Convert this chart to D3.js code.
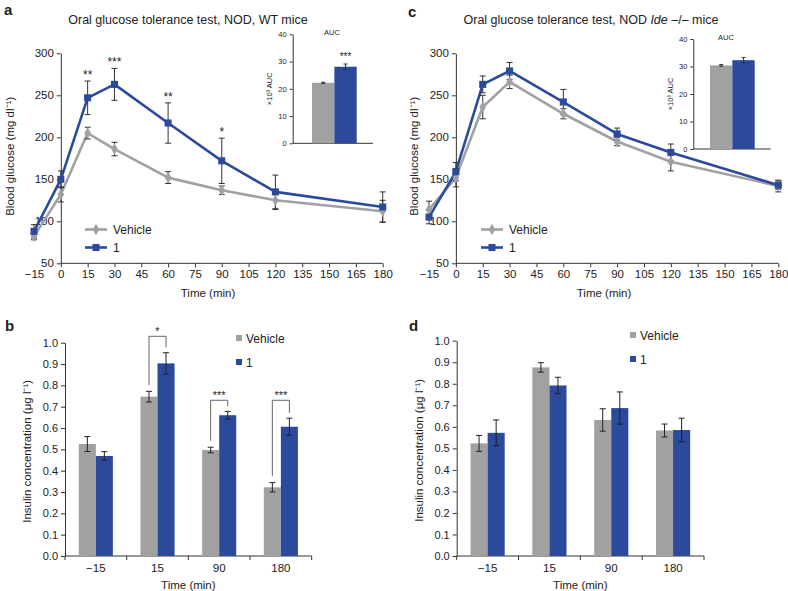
<!DOCTYPE html>
<html><head><meta charset="utf-8">
<script src="https://cdn.jsdelivr.net/npm/d3@7"></script>
<style>body{margin:0;background:#fff} text{font-family:"Liberation Sans",Arial,Helvetica,sans-serif;fill:#222}</style>
</head><body><svg id="c" width="788" height="591"></svg>
<script>
// ---------- DATA ----------
const times = [-15, 0, 15, 30, 60, 90, 120, 180];
const timeTicks = [-15, 0, 15, 30, 45, 60, 75, 90, 105, 120, 135, 150, 165, 180];
const glucoseTicks = [50, 100, 150, 200, 250, 300];
const seriesNames = ["Vehicle", "1"];

const wtVehicle = [82, 132, 205, 186, 152, 137, 125, 112];
const wtVehicleErr = [4, 9, 7, 8, 7, 5, 11, 13];
const wtCmpd = [88, 150, 247, 263, 217, 172, 135, 117];
const wtCmpdErr = [8, 10, 20, 19, 24, 27, 20, 18];
const wtSig = ["", "", "**", "***", "**", "*", "", ""];

const ideVehicle = [114, 152, 236, 266, 228, 195, 171, 142];
const ideVehicleErr = [10, 11, 14, 8, 6, 5, 11, 7];
const ideCmpd = [105, 159, 263, 279, 242, 204, 182, 143];
const ideCmpdErr = [8, 11, 10, 10, 15, 7, 10, 5];
const ideSig = ["", "", "", "", "", "", "", ""];

const aucTicks = [0, 10, 20, 30, 40];
const wtAUC = [22.2, 28.1];
const wtAUCErr = [0.2, 1.0];
const wtAUCSig = ["", "***"];
const ideAUC = [30.4, 32.3];
const ideAUCErr = [0.3, 1.0];
const ideAUCSig = ["", ""];

const insulinCats = ["−15", "15", "90", "180"];
const insulinTicks = [0, 0.1, 0.2, 0.3, 0.4, 0.5, 0.6, 0.7, 0.8, 0.9, 1.0];
const wtInsVehicle = [0.525, 0.747, 0.497, 0.322];
const wtInsVehicleErr = [0.035, 0.025, 0.013, 0.022];
const wtInsCmpd = [0.469, 0.903, 0.660, 0.606];
const wtInsCmpdErr = [0.02, 0.05, 0.018, 0.04];
const wtInsSig = ["", "*", "***", "***"];
const wtInsBracket = [null, 1.03, 0.73, 0.73];

const ideInsVehicle = [0.523, 0.876, 0.632, 0.583];
const ideInsVehicleErr = [0.037, 0.022, 0.052, 0.03];
const ideInsCmpd = [0.572, 0.792, 0.687, 0.585];
const ideInsCmpdErr = [0.06, 0.038, 0.075, 0.055];
const ideInsSig = ["", "", "", ""];
const ideInsBracket = [null, null, null, null];

const colors = { "Vehicle": "#a1a1a1", "1": "#2b4a9b" };
const axisColor = "#333";

const svg = d3.select("#c");
const minus = d => d < 0 ? "−" + (-d) : String(d);

function styleAxis(g, fs) {
  g.selectAll("path,line").attr("stroke", axisColor);
  g.selectAll("text").attr("font-size", fs).attr("fill", "#222").style("font-family", '"Liberation Sans",Arial,sans-serif');
}

function errBar(g, x, y0, y1, cap, color) {
  g.append("line").attr("x1", x).attr("x2", x).attr("y1", y0).attr("y2", y1).attr("stroke", color).attr("stroke-width", 1);
  g.append("line").attr("x1", x - cap).attr("x2", x + cap).attr("y1", y0).attr("y2", y0).attr("stroke", color).attr("stroke-width", 1);
  g.append("line").attr("x1", x - cap).attr("x2", x + cap).attr("y1", y1).attr("y2", y1).attr("stroke", color).attr("stroke-width", 1);
}

function lineChart(o) {
  const g = svg.append("g");
  const x = d3.scaleLinear().domain([-15, 180]).range(o.xr);
  const y = d3.scaleLinear().domain([50, 300]).range(o.yr);
  // x axis
  const xa = g.append("g").attr("transform", `translate(0,${y(50)})`)
    .call(d3.axisBottom(x).tickValues(timeTicks).tickSize(4).tickPadding(3).tickFormat(minus));
  xa.select(".domain").remove();
  xa.selectAll(".tick").filter(d => d < 0).select("line").remove();
  xa.append("line").attr("x1", x(0)).attr("x2", x(180)).attr("y1", 0).attr("y2", 0);
  styleAxis(xa, "11.5px");
  // y axis
  const ya = g.append("g").attr("transform", `translate(${x(0)},0)`)
    .call(d3.axisLeft(y).tickValues(glucoseTicks).tickSize(4).tickSizeOuter(0).tickPadding(3));
  styleAxis(ya, "11.5px");
  // labels
  g.append("text").attr("x", o.xLabelX).attr("y", y(50) + 34).attr("text-anchor", "middle").attr("font-size", "11.5px").text("Time (min)");
  g.append("text").attr("transform", `translate(${o.yLabelX},${(y(50) + y(300)) / 2 - 2}) rotate(-90)`).attr("text-anchor", "middle").attr("font-size", "11.5px").text("Blood glucose (mg dl⁻¹)");
  // series
  const ser = [
    { name: "Vehicle", v: o.vehicle, e: o.vehicleErr, sym: d3.symbolDiamond, size: 38 },
    { name: "1", v: o.cmpd, e: o.cmpdErr, sym: d3.symbolSquare, size: 50 }
  ];
  const line = d3.line().x((d, i) => x(times[i])).y(d => y(d));
  ser.forEach(s => {
    g.append("path").datum(s.v).attr("d", line).attr("fill", "none").attr("stroke", colors[s.name]).attr("stroke-width", 2.6).attr("stroke-linejoin", "round");
  });
  ser.forEach(s => {
    s.v.forEach((v, i) => errBar(g, x(times[i]), y(v - s.e[i]), y(v + s.e[i]), 3, "#333"));
  });
  ser.forEach(s => {
    g.selectAll(null).data(s.v).enter().append("path")
      .attr("d", d3.symbol(s.sym, s.size))
      .attr("transform", (d, i) => `translate(${x(times[i])},${y(d)})`)
      .attr("fill", colors[s.name]);
  });
  // significance
  o.sig.forEach((t, i) => {
    if (!t) return;
    const top = Math.max(o.cmpd[i] + o.cmpdErr[i], o.vehicle[i] + o.vehicleErr[i]);
    g.append("text").attr("x", x(times[i])).attr("y", y(top) - 2).attr("text-anchor", "middle").attr("font-size", "12px").text(t);
  });
  // legend
  ser.forEach((s, k) => {
    const ly = o.legendY + k * 18;
    g.append("line").attr("x1", o.legendX).attr("x2", o.legendX + 22).attr("y1", ly).attr("y2", ly).attr("stroke", colors[s.name]).attr("stroke-width", 2.6);
    g.append("path").attr("d", d3.symbol(s.sym, s.size)).attr("transform", `translate(${o.legendX + 11},${ly})`).attr("fill", colors[s.name]);
    g.append("text").attr("x", o.legendX + 28).attr("y", ly + 4.5).attr("font-size", "12px").text(s.name);
  });
  // inset
  const I = o.inset;
  const yi = d3.scaleLinear().domain([0, 40]).range(I.yr);
  const xi = d3.scaleBand().domain(seriesNames).range(I.barRange);
  const ia = g.append("g").attr("transform", `translate(${I.axisX},0)`)
    .call(d3.axisLeft(yi).tickValues(aucTicks).tickSize(3).tickSizeOuter(0).tickPadding(3));
  styleAxis(ia, "7.5px");
  g.append("line").attr("x1", I.axisX).attr("x2", I.axisEnd).attr("y1", yi(0)).attr("y2", yi(0)).attr("stroke", axisColor);
  seriesNames.forEach((n, k) => {
    g.append("rect").attr("x", xi(n)).attr("width", xi.bandwidth()).attr("y", yi(I.values[k])).attr("height", yi(0) - yi(I.values[k])).attr("fill", colors[n]);
    errBar(g, xi(n) + xi.bandwidth() / 2, yi(I.values[k] - I.errs[k]), yi(I.values[k] + I.errs[k]), 2, "#333");
    if (I.sig[k]) g.append("text").attr("x", xi(n) + xi.bandwidth() / 2).attr("y", yi(I.values[k] + I.errs[k]) - 4).attr("text-anchor", "middle").attr("font-size", "10px").text(I.sig[k]);
  });
  g.append("text").attr("x", I.aucX).attr("y", yi(40) + 1).attr("text-anchor", "middle").attr("font-size", "7.5px").text("AUC");
  g.append("text").attr("transform", `translate(${I.labelX},${(yi(0) + yi(40)) / 2 + 0}) rotate(-90)`).attr("text-anchor", "middle").attr("font-size", "7.5px").text("×10³ AUC");
}

function barChart(o) {
  const g = svg.append("g");
  const x = d3.scaleBand().domain(insulinCats).range(o.xr);
  const xs = d3.scaleBand().domain(seriesNames).range([0, x.bandwidth()]).paddingOuter(0.81);
  const y = d3.scaleLinear().domain([0, 1]).range(o.yr);
  const ya = g.append("g").attr("transform", `translate(${o.xr[0]},0)`)
    .call(d3.axisLeft(y).tickValues(insulinTicks).tickSize(4).tickSizeOuter(0).tickPadding(3).tickFormat(d3.format(".1f")));
  styleAxis(ya, "11px");
  // x axis with boundary ticks
  const xa = g.append("g").attr("transform", `translate(0,${y(0)})`);
  xa.append("line").attr("x1", o.xr[0]).attr("x2", o.xr[1]).attr("y1", 0).attr("y2", 0);
  const bounds = insulinCats.map(c => x(c)).concat([x(insulinCats[insulinCats.length - 1]) + x.bandwidth()]);
  bounds.forEach(b => xa.append("line").attr("x1", b).attr("x2", b).attr("y1", 0).attr("y2", 4));
  insulinCats.forEach(c => xa.append("text").attr("x", x(c) + x.bandwidth() / 2).attr("y", 16).attr("text-anchor", "middle").text(c));
  styleAxis(xa, "11.5px");
  g.append("text").attr("x", (o.xr[0] + o.xr[1]) / 2).attr("y", y(0) + 33).attr("text-anchor", "middle").attr("font-size", "11.5px").text("Time (min)");
  g.append("text").attr("transform", `translate(${o.yLabelX},${(y(0) + y(1)) / 2 + 2}) rotate(-90)`).attr("text-anchor", "middle").attr("font-size", "11.5px").text("Insulin concentration (μg l⁻¹)");
  const ser = [{ name: "Vehicle", v: o.vehicle, e: o.vehicleErr }, { name: "1", v: o.cmpd, e: o.cmpdErr }];
  ser.forEach(s => {
    g.selectAll(null).data(s.v).enter().append("rect")
      .attr("x", (d, i) => x(insulinCats[i]) + xs(s.name)).attr("width", xs.bandwidth())
      .attr("y", d => y(d)).attr("height", d => y(0) - y(d)).attr("fill", colors[s.name]);
  });
  ser.forEach(s => s.v.forEach((v, i) => {
    errBar(g, x(insulinCats[i]) + xs(s.name) + xs.bandwidth() / 2, y(v - s.e[i]), y(v + s.e[i]), 3, "#222");
  }));
  // brackets
  o.bracket.forEach((b, i) => {
    if (b == null) return;
    const xl = x(insulinCats[i]) + xs("Vehicle") + xs.bandwidth() / 2;
    const xr = x(insulinCats[i]) + xs("1") + xs.bandwidth() / 2;
    const yl = y(o.vehicle[i] + o.vehicleErr[i] + 0.03);
    const yr = y(o.cmpd[i] + o.cmpdErr[i] + 0.025);
    g.append("path").attr("d", `M${xl},${yl}V${y(b)}H${xr}V${yr}`).attr("fill", "none").attr("stroke", "#666").attr("stroke-width", 1);
    g.append("text").attr("x", (xl + xr) / 2).attr("y", y(b) - 1).attr("text-anchor", "middle").attr("font-size", "11px").text(o.sig[i]);
  });
  // legend
  ser.forEach((s, k) => {
    const ly = o.legendY + k * 24;
    g.append("rect").attr("x", o.legendX).attr("y", ly - 3).attr("width", 6).attr("height", 6).attr("fill", colors[s.name]);
    g.append("text").attr("x", o.legendX + 10).attr("y", ly + 4.5).attr("font-size", "12px").text(s.name);
  });
}

// ---------- PANELS ----------
lineChart({
  xr: [34, 382.7], yr: [263.3, 53.3], xLabelX: 208, yLabelX: 14,
  vehicle: wtVehicle, vehicleErr: wtVehicleErr, cmpd: wtCmpd, cmpdErr: wtCmpdErr, sig: wtSig,
  legendX: 85, legendY: 229.5,
  inset: { yr: [143.3, 34.3], barRange: [312, 356.7], axisX: 292.7, axisEnd: 373, values: wtAUC, errs: wtAUCErr, sig: wtAUCSig, aucX: 332, labelX: 272 }
});
lineChart({
  xr: [429, 778.3], yr: [263.3, 53.3], xLabelX: 604, yLabelX: 418,
  vehicle: ideVehicle, vehicleErr: ideVehicleErr, cmpd: ideCmpd, cmpdErr: ideCmpdErr, sig: ideSig,
  legendX: 481, legendY: 229.5,
  inset: { yr: [149, 39], barRange: [710, 754.7], axisX: 693.3, axisEnd: 770.7, values: ideAUC, errs: ideAUCErr, sig: ideAUCSig, aucX: 726, labelX: 673 }
});
barChart({
  xr: [65, 311.7], yr: [556, 342.7], yLabelX: 31,
  vehicle: wtInsVehicle, vehicleErr: wtInsVehicleErr, cmpd: wtInsCmpd, cmpdErr: wtInsCmpdErr,
  sig: wtInsSig, bracket: wtInsBracket, legendX: 236, legendY: 338
});
barChart({
  xr: [456.7, 704], yr: [556, 340.7], yLabelX: 423,
  vehicle: ideInsVehicle, vehicleErr: ideInsVehicleErr, cmpd: ideInsCmpd, cmpdErr: ideInsCmpdErr,
  sig: ideInsSig, bracket: ideInsBracket, legendX: 630, legendY: 335
});

// titles and panel letters
svg.append("text").attr("x", 188).attr("y", 24).attr("text-anchor", "middle").attr("font-size", "12.5px").text("Oral glucose tolerance test, NOD, WT mice");
const tc = svg.append("text").attr("x", 591).attr("y", 24).attr("text-anchor", "middle").attr("font-size", "12.5px");
tc.append("tspan").text("Oral glucose tolerance test, NOD ");
tc.append("tspan").attr("font-style", "italic").text("Ide");
tc.append("tspan").text(" –/– mice");
const letters = [["a", 4, 15], ["c", 408, 17], ["b", 5, 331], ["d", 409, 331]];
letters.forEach(([t, lx, ly]) => svg.append("text").attr("x", lx).attr("y", ly).attr("font-size", "15px").attr("font-weight", "bold").text(t));
</script>
</body></html>
